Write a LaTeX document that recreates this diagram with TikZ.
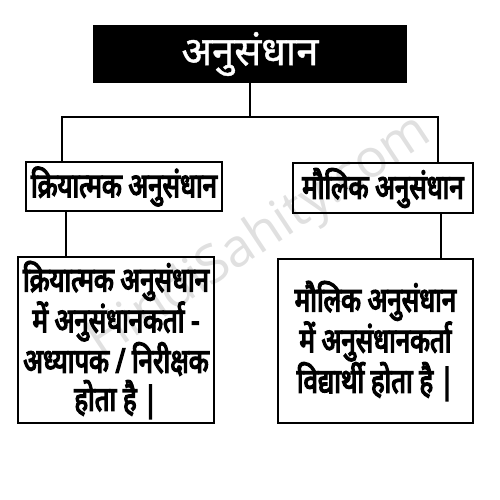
\documentclass[tikz,border=0pt]{standalone}
\usepackage{fontspec}
\newfontfamily\dev[Script=Devanagari,FakeBold=4,FakeStretch=0.76]{Noto Sans}
\newfontfamily\devtop[Script=Devanagari,FakeBold=1]{Noto Sans}
\newfontfamily\wmfont{Open Sans}
\begin{document}
\begin{tikzpicture}[x=1pt,y=-1pt,
  conn/.style={line width=2.5pt},
  boxstyle/.style={draw,line width=2.5pt,fill=white,inner sep=0pt,align=center},
  btext/.style={font=\dev\fontsize{34}{38}\selectfont}]
\useasboundingbox (0,0) rectangle (500,500);
\node[fill=black,minimum width=314pt,minimum height=58pt,inner sep=0pt,text=white,
  font=\devtop\fontsize{40}{44}\selectfont] (top) at (250,54) {अनुसंधान};
\node[boxstyle,minimum width=196pt,minimum height=49pt,btext] (lm) at (124,186.5) {क्रियात्मक अनुसंधान};
\node[boxstyle,minimum width=180pt,minimum height=50pt,btext] (rm) at (383,188) {मौलिक अनुसंधान};
\node[boxstyle,minimum width=196pt,minimum height=166pt,btext] (lb) at (116,340) {क्रियात्मक अनुसंधान\\ में अनुसंधानकर्ता -\\ अध्यापक / निरीक्षक\\ होता है |};
\node[boxstyle,minimum width=195pt,minimum height=164pt,btext] (rb) at (375.5,341) {मौलिक अनुसंधान\\ में अनुसंधानकर्ता\\ विद्यार्थी होता है |};
\coordinate (j) at (250,117);
\coordinate (jl) at (62,117);
\coordinate (jr) at (438,117);
\coordinate (cl) at (66,230);
\coordinate (cr) at (441,230);
\draw[conn] (top.south) -- (j);
\draw[conn] (jl |- lm.north) -- (jl) -- (jr) -- (jr |- rm.north);
\draw[conn] (cl |- lm.south) -- (cl |- lb.north);
\draw[conn] (cr |- rm.south) -- (cr |- rb.north);
\node[rotate=33.6,text=black,text opacity=0.12,font=\wmfont\fontsize{53}{53}\selectfont] (wm) at (260,238) {HindiSahity.com};
\end{tikzpicture}
\end{document}
